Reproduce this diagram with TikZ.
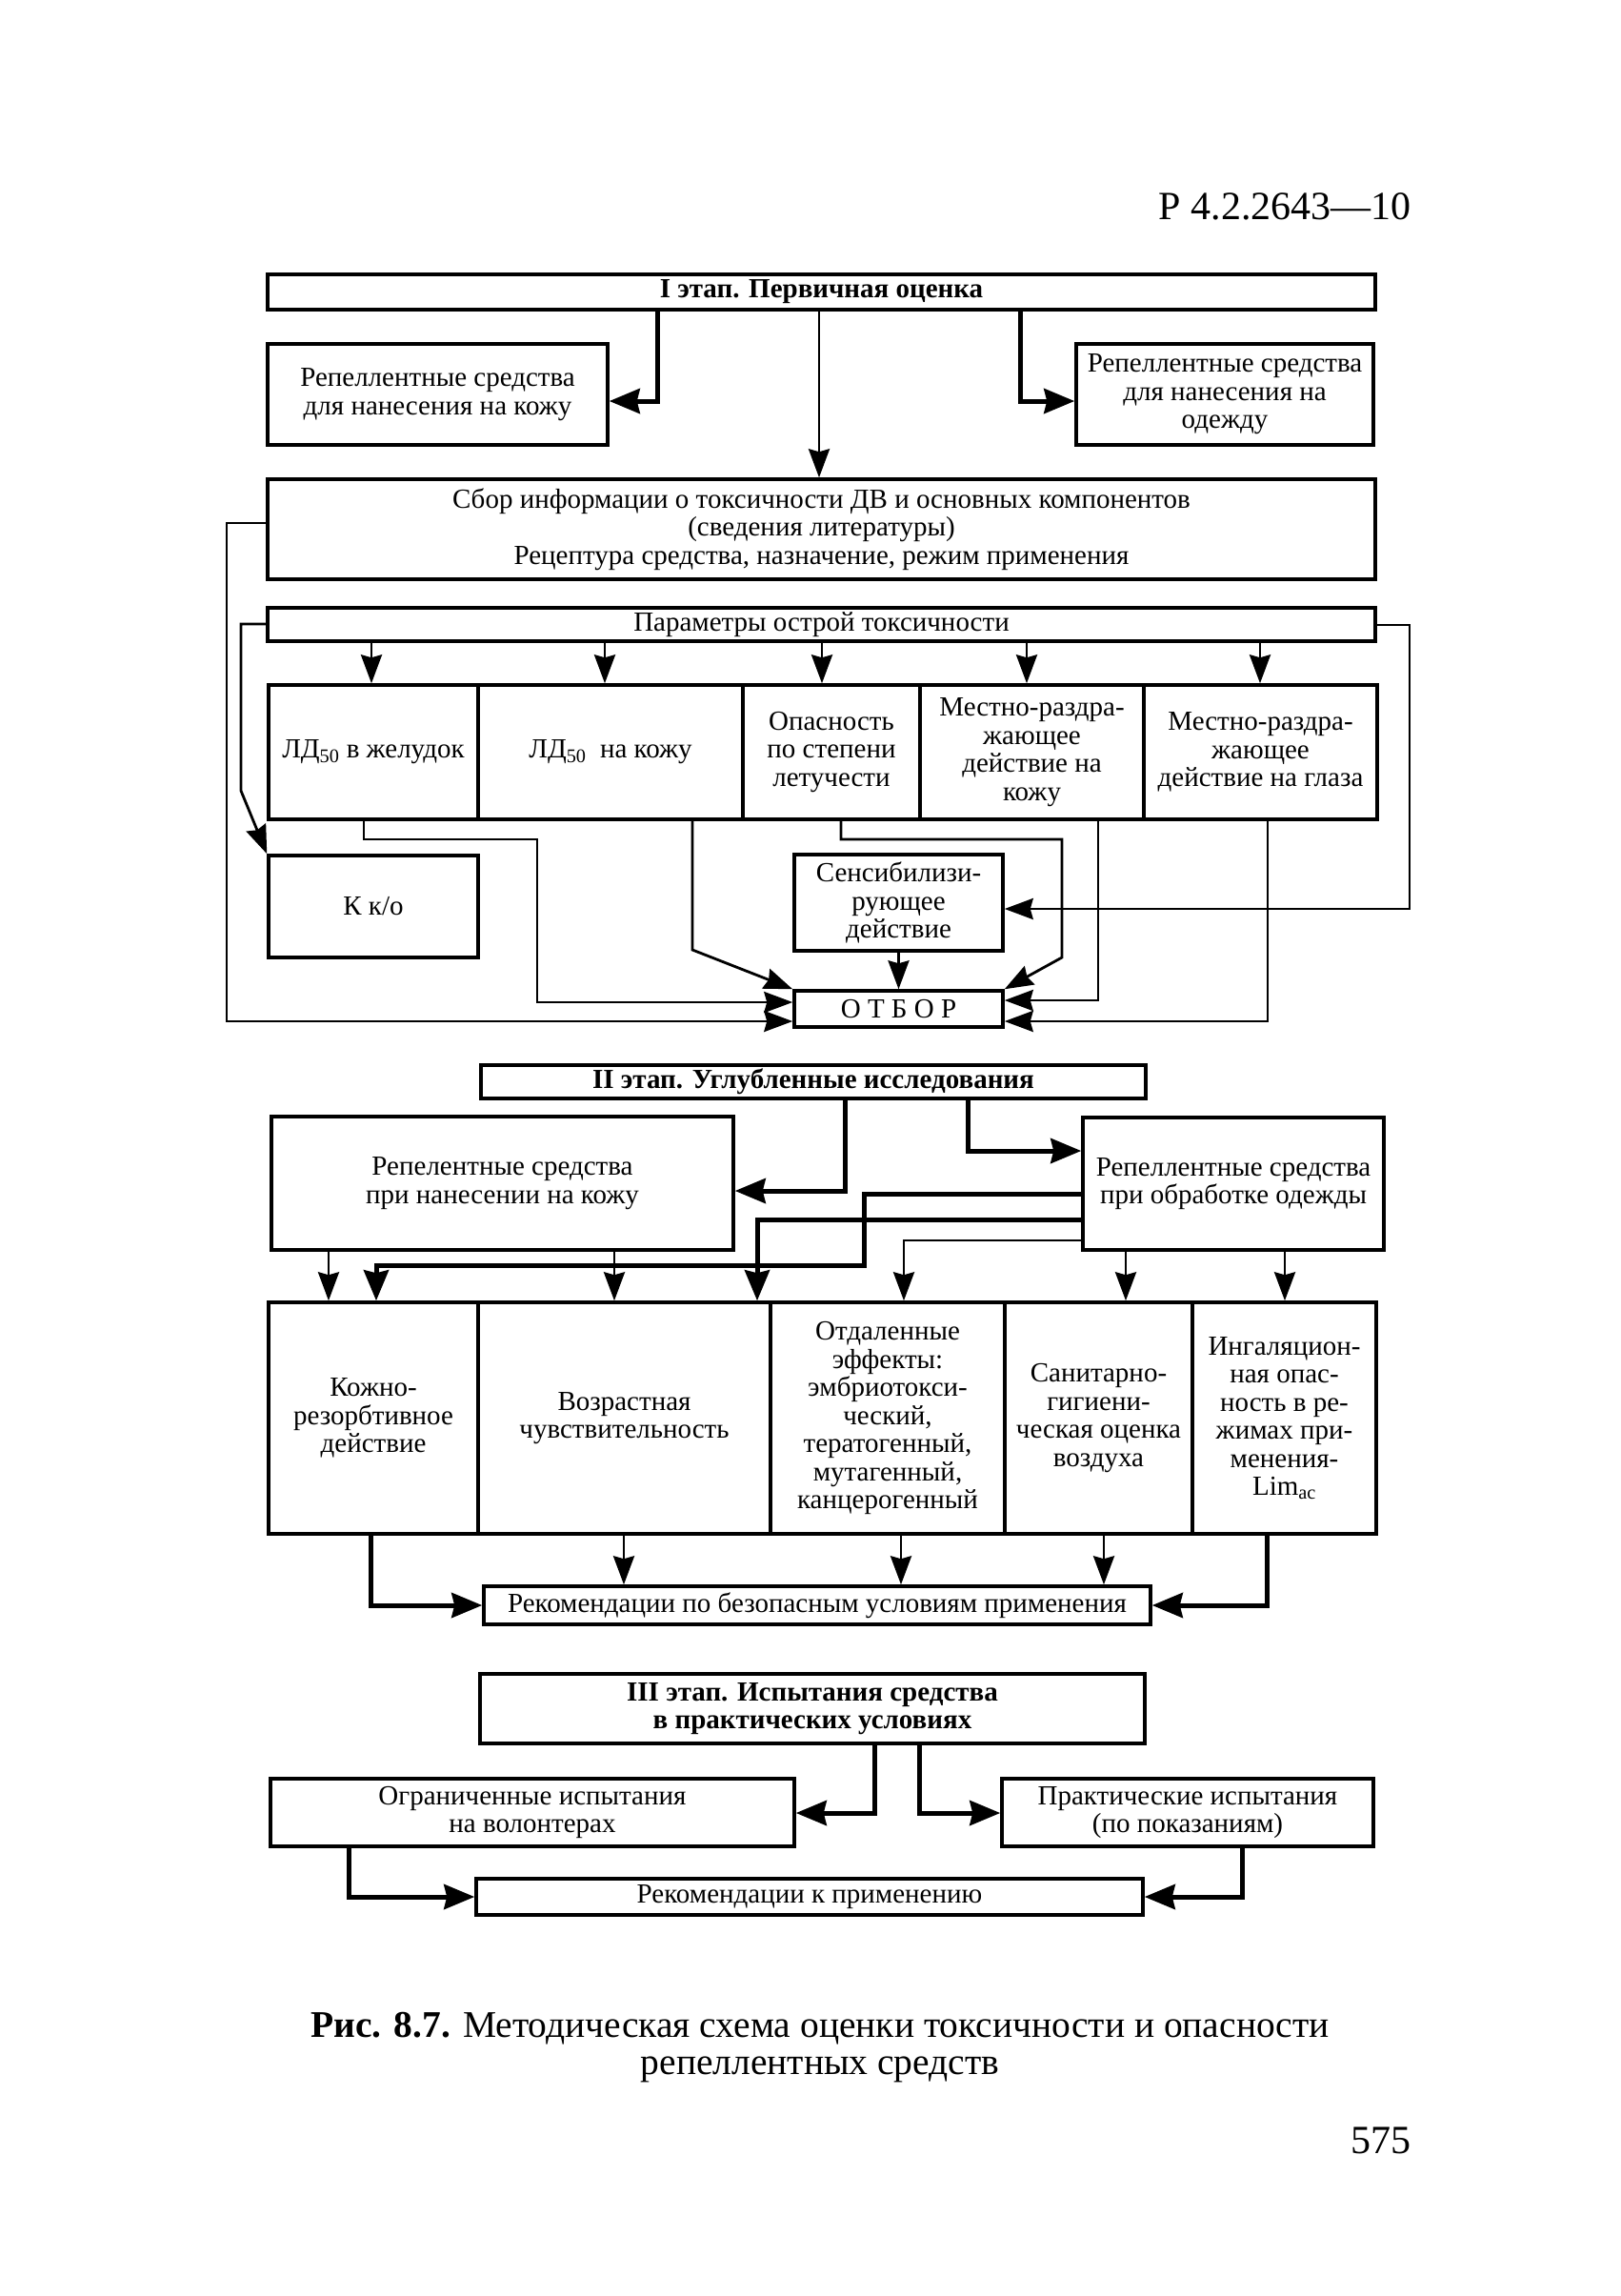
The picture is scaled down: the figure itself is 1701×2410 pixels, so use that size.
\documentclass[tikz,border=0pt]{standalone}
\usepackage{fontspec}
\setmainfont{Liberation Serif}
\usetikzlibrary{arrows.meta}
\newcommand\bxfont{\fontsize{29}{29.5}\selectfont}
\newcommand\mybox[7][]{\node[boxs,#1,minimum width={#5pt-#3pt},minimum height={#6pt-#4pt}] (#2) at ({(#3+#5)/2},{(#4+#6)/2}) {#7};}
\tikzset{
 boxs/.style={draw, line width=3.5pt, inner sep=0pt, align=center, font=\bxfont, fill=white},
 thn/.style={line width=2.8pt, line join=miter, -{Stealth[length=30pt,width=22pt,inset=3pt]}},
 thk/.style={line width=5pt, line join=miter, -{Stealth[length=32pt,width=26pt,inset=3pt]}},
}
\begin{document}
\begin{tikzpicture}[x=1pt,y=-1pt]
\fill[white] (0,0) rectangle (1701,2410);
\useasboundingbox (0,0) rectangle (1701,2410);
% header
\node[anchor=base east, font=\fontsize{42}{46}\selectfont, inner sep=0pt] (hdr) at (1482,230) {Р 4.2.2643—10};
% stage I
\mybox{s1}{281}{288}{1444}{325}{\textbf{I этап. Первичная оценка}}
\mybox{skin1}{281}{361}{638}{467}{Репеллентные средства\\для нанесения на кожу}
\mybox{cloth1}{1130}{361}{1442}{467}{Репеллентные средства\\для нанесения на\\одежду}
\mybox{info}{281}{503}{1444}{608}{Сбор информации о токсичности ДВ и основных компонентов\\(сведения литературы)\\Рецептура средства, назначение, режим применения}
\mybox{params}{281}{638}{1444}{673}{Параметры острой токсичности}
\mybox{c1}{282}{719}{502}{860}{ЛД\textsubscript{50} в желудок}
\mybox{c2}{502}{719}{780}{860}{ЛД\textsubscript{50}\ \ на кожу}
\mybox{c3}{780}{719}{966}{860}{Опасность\\по степени\\летучести}
\mybox{c4}{966}{719}{1201}{860}{Местно-раздра-\\жающее\\действие на\\кожу}
\mybox{c5}{1201}{719}{1446}{860}{Местно-раздра-\\жающее\\действие на глаза}
\mybox{kko}{282}{898}{502}{1005}{К к/о}
\mybox{sens}{834}{897}{1053}{998}{Сенсибилизи-\\рующее\\действие}
\mybox{otbor}{834}{1040}{1053}{1078}{О Т Б О Р}
% connectors stage I
\draw[thk] (690,0 |- s1.south) |- (skin1.east |- 0,421);
\draw[thk] (1071,0 |- s1.south) |- (cloth1.west |- 0,421);
\draw[thn] (860,0 |- s1.south) -- (860,0 |- info.north);
\draw[thn] (info.west |- 0,549) -| (238,1072) -- (otbor.west |- 0,1072);
\draw[thn] (params.west |- 0,655) -| (253,830) -- (kko.north west);
\foreach \xx in {390,635,863,1078,1323} \draw[thn] (\xx,0 |- params.south) -- (\xx,0 |- c1.north);
\draw[thn] (382,0 |- c1.south) |- (564,881) |- (otbor.west |- 0,1052);
\draw[thn] (727,0 |- c2.south) -- (727,997) -- (otbor.north west);
\draw[thn] (883,0 |- c3.south) |- (1115,881) -- (1115,1005) -- (otbor.north east);
\draw[thn] (sens.south) -- (otbor.north);
\draw[thn] (1153,0 |- c4.south) |- (otbor.east |- 0,1050);
\draw[thn] (1331,0 |- c5.south) |- (otbor.east |- 0,1072);
\draw[thn] (params.east |- 0,656) -| (1480,954) -- (sens.east |- 0,954);
% stage II
\mybox{s2}{505}{1118}{1203}{1153}{\textbf{II этап. Углубленные исследования}}
\mybox{skin2}{285}{1172}{770}{1312}{Репелентные средства\\при нанесении на кожу}
\mybox{cloth2}{1137}{1173}{1453}{1312}{Репеллентные средства\\при обработке одежды}
\mybox{d1}{282}{1367}{502}{1610}{Кожно-\\резорбтивное\\действие}
\mybox{d2}{502}{1367}{809}{1610}{Возрастная\\чувствительность}
\mybox{d3}{809}{1367}{1055}{1610}{Отдаленные\\эффекты:\\эмбриотокси-\\ческий,\\тератогенный,\\мутагенный,\\канцерогенный}
\mybox{d4}{1055}{1367}{1252}{1610}{Санитарно-\\гигиени-\\ческая оценка\\воздуха}
\mybox{d5}{1252}{1367}{1445}{1610}{Ингаляцион-\\ная опас-\\ность в ре-\\жимах при-\\менения-\\Lim\textsubscript{ac}}
\mybox{rec1}{508}{1665}{1208}{1705}{Рекомендации по безопасным условиям применения}
\draw[thk] (887,0 |- s2.south) |- (skin2.east |- 0,1250);
\draw[thk] (1016,0 |- s2.south) |- (cloth2.west |- 0,1208);
\draw[thk] (cloth2.west |- 0,1253) -| (907,1328) -| (395,0 |- d1.north);
\draw[thk] (cloth2.west |- 0,1280) -| (795,0 |- d2.north);
\draw[thn] (cloth2.west |- 0,1302) -| (949,0 |- d3.north);
\draw[thn] (345,0 |- skin2.south) -- (345,0 |- d1.north);
\draw[thn] (645,0 |- skin2.south) -- (645,0 |- d2.north);
\draw[thn] (1182,0 |- cloth2.south) -- (1182,0 |- d4.north);
\draw[thn] (1349,0 |- cloth2.south) -- (1349,0 |- d5.north);
\draw[thk] (389,0 |- d1.south) |- (rec1.west);
\draw[thn] (655,0 |- d2.south) -- (655,0 |- rec1.north);
\draw[thn] (946,0 |- d3.south) -- (946,0 |- rec1.north);
\draw[thn] (1159,0 |- d4.south) -- (1159,0 |- rec1.north);
\draw[thk] (1330,0 |- d5.south) |- (rec1.east);
% stage III
\mybox{s3}{504}{1757}{1202}{1830}{\textbf{III этап. Испытания средства}\\\textbf{в практических условиях}}
\mybox{lim}{284}{1867}{834}{1938}{Ограниченные испытания\\на волонтерах}
\mybox{prac}{1052}{1867}{1442}{1938}{Практические испытания\\(по показаниям)}
\mybox{rec2}{500}{1972}{1200}{2010}{Рекомендации к применению}
\draw[thk] (918,0 |- s3.south) |- (lim.east |- 0,1903);
\draw[thk] (965,0 |- s3.south) |- (prac.west |- 0,1903);
\draw[thk] (366,0 |- lim.south) |- (rec2.west);
\draw[thk] (1304,0 |- prac.south) |- (rec2.east);
% caption
\node[anchor=base, font=\fontsize{39.5}{42}\selectfont, inner sep=0pt] (cap1) at (861,2138) {\textbf{Рис. 8.7.} Методическая схема оценки токсичности и опасности};
\node[anchor=base, font=\fontsize{39.5}{42}\selectfont, inner sep=0pt] (cap2) at (861,2177) {репеллентных средств};
\node[anchor=base east, font=\fontsize{42}{44}\selectfont, inner sep=0pt] (pg) at (1482,2260) {575};
\end{tikzpicture}
\end{document}
